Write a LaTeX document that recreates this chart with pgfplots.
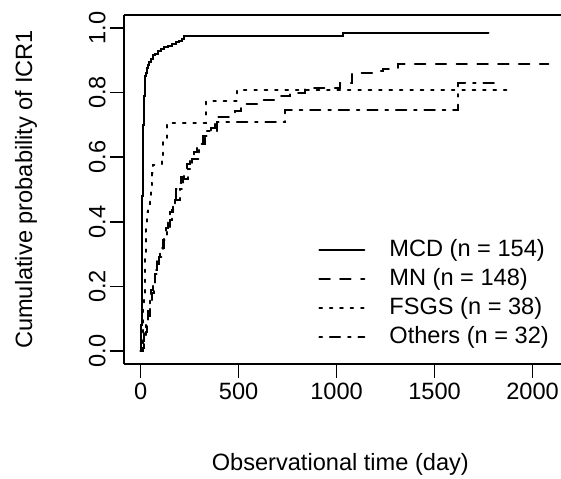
\documentclass[border=0pt]{standalone}
\usepackage{fontspec}
\setmainfont{Liberation Sans}
\usepackage{pgfplots}
\pgfplotsset{compat=1.18}

% R line types at this size: lty 2 "44", 3 "13", 4 "1343"
\tikzset{
  rdash/.style={dash pattern=on 5.2pt off 5.2pt},
  rdot/.style={dash pattern=on 1.3pt off 3.9pt},
  rdotdash/.style={dash pattern=on 1.3pt off 3.9pt on 5.2pt off 3.9pt},
}

\begin{document}
\begin{tikzpicture}[font=\fontsize{11.8}{14}\selectfont]
\begin{axis}[
    scale only axis,
    width=218.5pt, height=174.5pt,
    xmin=-85, xmax=2145,
    ymin=-0.04, ymax=1.04,
    axis x line=box, axis y line=left,
    axis line style={-, line width=0.7pt},
    xtick={0,500,1000,1500,2000},
    ytick={0,0.2,0.4,0.6,0.8,1.0},
    xtick pos=bottom, ytick pos=left,
    tick align=outside,
    major tick length=7pt,
    tick style={line width=0.7pt, black},
    /pgf/number format/assume math mode=true,
    /pgf/number format/1000 sep={},
    yticklabel style={rotate=90, anchor=south, inner sep=2pt,
      /pgf/number format/fixed, /pgf/number format/fixed zerofill,
      /pgf/number format/precision=1},
    xticklabel style={inner sep=2.5pt},
    tick label style={font=\fontsize{11.8}{14}\selectfont},
    xlabel={Observational time (day)},
    ylabel={Cumulative probability of ICR1},
    every axis x label/.style={at={(axis description cs:0.495,0)}, yshift=-41pt, anchor=north,
      font=\fontsize{11.8}{14}\selectfont},
    every axis y label/.style={at={(axis description cs:-0.224,0.5)}, rotate=90, anchor=center,
      font=\fontsize{11.8}{14}\selectfont},
    legend style={at={(rel axis cs:0.444,0.361)}, anchor=north west,
      draw=none, fill=none, inner sep=0pt, row sep=3pt, column sep=12pt,
      font=\fontsize{11.8}{14}\selectfont,
      nodes={inner sep=0pt, text height=9pt, text depth=2.5pt}},
    legend cell align=left,
    legend image code/.code={\draw[#1] (0pt,0pt) -- (22.5pt,0pt);},
    every axis plot/.append style={black, line width=1pt, line cap=round},
]
% MCD
\addplot[const plot] coordinates {
 (0,0) (2,0.02) (4,0.08) (5,0.15) (6,0.25) (7,0.33) (8,0.40) (9,0.48)
 (10,0.55) (11,0.60) (12,0.65) (13,0.70) (15,0.75) (17,0.79) (20,0.82)
 (24,0.85) (28,0.86) (32,0.875) (38,0.885) (45,0.895) (55,0.905)
 (65,0.915) (75,0.92) (90,0.93) (105,0.935) (120,0.94) (140,0.945)
 (160,0.95) (180,0.955) (195,0.96) (210,0.967) (220,0.974)
 (1035,0.985) (1775,0.985)
};
\addlegendentry{MCD (n = 154)}
% MN
\addplot[const plot, rdash] coordinates {
 (0,0) (10,0.01) (18,0.03) (25,0.06) (32,0.09) (40,0.11) (50,0.15)
 (58,0.18) (66,0.21) (75,0.24) (85,0.27) (95,0.29) (107,0.32)
 (118,0.35) (128,0.38) (140,0.41) (152,0.43) (165,0.47) (178,0.50)
 (192,0.52) (205,0.54) (220,0.56) (235,0.58) (250,0.60) (270,0.615)
 (290,0.63) (305,0.645) (320,0.665) (340,0.675) (360,0.69) (380,0.71)
 (395,0.725) (480,0.742) (512,0.766) (600,0.778) (710,0.788)
 (760,0.80) (840,0.815) (1015,0.83) (1080,0.861) (1200,0.866)
 (1236,0.873) (1314,0.889) (2080,0.889)
};
\addlegendentry{MN (n = 148)}
% FSGS
\addplot[const plot, rdot] coordinates {
 (0,0) (8,0.026) (11,0.08) (14,0.13) (17,0.18) (20,0.24) (22,0.30)
 (25,0.35) (28,0.40) (30,0.43) (38,0.455) (47,0.48) (52,0.50)
 (56,0.52) (60,0.55) (64,0.577) (107,0.603) (115,0.655) (133,0.706)
 (333,0.773) (490,0.807) (1900,0.807)
};
\addlegendentry{FSGS (n = 38)}
% Others
\addplot[const plot, rdotdash] coordinates {
 (0,0) (8,0.031) (15,0.063) (25,0.094) (38,0.125) (48,0.156) (55,0.188)
 (65,0.219) (72,0.25) (85,0.281) (100,0.313) (115,0.344) (135,0.375)
 (150,0.406) (160,0.438) (175,0.469) (200,0.50) (215,0.531)
 (240,0.563) (260,0.594) (300,0.64) (330,0.68) (390,0.708)
 (737,0.747) (1621,0.83) (1825,0.83)
};
\addlegendentry{Others (n = 32)}
\end{axis}
\pgfresetboundingbox
\useasboundingbox ([shift={(-62pt,-57.5pt)}]current axis.south west)
  rectangle ([shift={(0pt,7.5pt)}]current axis.north east);
\end{tikzpicture}
\end{document}
